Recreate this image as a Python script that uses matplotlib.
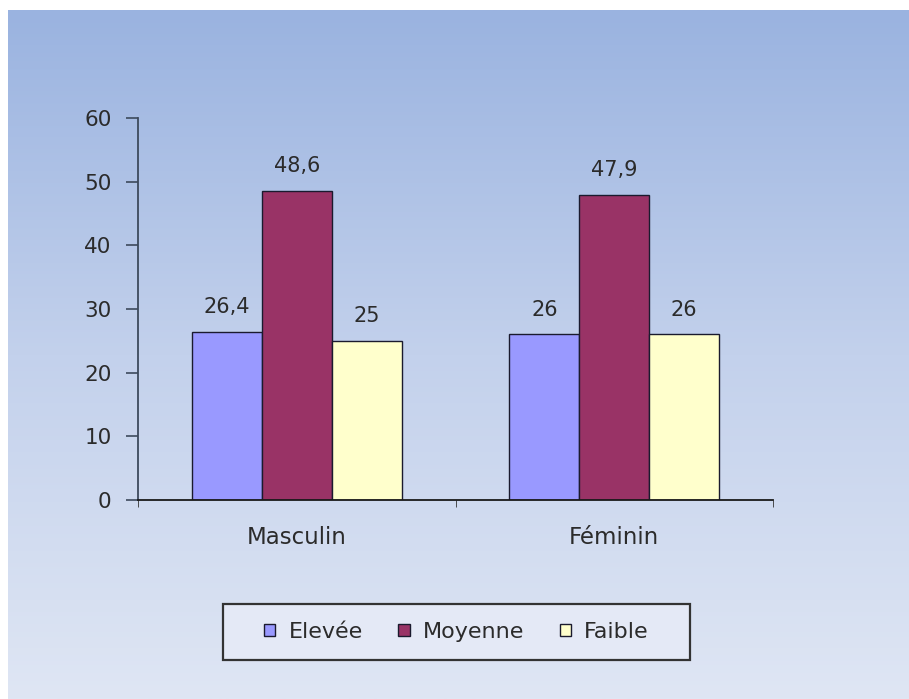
import numpy as np
import matplotlib.pyplot as plt
from matplotlib.colors import LinearSegmentedColormap
from matplotlib.patches import Rectangle

categories = ['Masculin', 'Féminin']
levels = ['Elevée', 'Moyenne', 'Faible']
elevee = [26.4, 26]
moyenne = [48.6, 47.9]
faible = [25, 26]
yticks = [0, 10, 20, 30, 40, 50, 60]

colors = ['#9999ff', '#993366', '#ffffcc']
text_col = '#2b2b2b'


def fmt(v):
    # French decimal comma
    s = f'{v:g}'
    return s.replace('.', ',')


fig = plt.figure(figsize=(9.09, 6.99), dpi=100)
fig.patch.set_facecolor('white')

# gradient panel behind the chart
bg = fig.add_axes([8 / 909, 0, 1 - 8 / 909, 1 - 10 / 699], zorder=0)
cmap = LinearSegmentedColormap.from_list('panel', ['#9ab3e0', '#c3d1ec', '#dfe6f4'])
grad = np.linspace(0, 1, 256).reshape(-1, 1)
bg.imshow(grad, aspect='auto', cmap=cmap, extent=[0, 1, 0, 1], origin='upper')
bg.set_axis_off()

ax = fig.add_axes([138 / 909, 1 - 500 / 699, 635 / 909, 382 / 699], zorder=1)
ax.patch.set_alpha(0)

x = np.arange(len(categories))
w = 0.22
series = [elevee, moyenne, faible]
handles = []
for i, (vals, c, lab) in enumerate(zip(series, colors, levels)):
    pos = x + (i - 1) * w
    bars = ax.bar(pos, vals, w, color=c, edgecolor='#1a1a2e', linewidth=1.0, label=lab)
    handles.append(bars)
    for b, v in zip(bars, vals):
        ax.annotate(fmt(v), (b.get_x() + b.get_width() / 2, v),
                    xytext=(0, 10.5), textcoords='offset points',
                    ha='center', va='bottom', fontsize=15, color=text_col)

ax.set_xlim(-0.5, 1.5)
ax.set_ylim(0, 60)
ax.set_yticks(yticks)
ax.set_yticklabels([str(t) for t in yticks], fontsize=15.5, color=text_col)
ax.set_xticks(x)
ax.set_xticklabels(categories, fontsize=16.5, color=text_col)
ax.tick_params(axis='x', length=0, pad=19)
ax.set_xticks([-0.5, 0.5, 1.5], minor=True)
ax.tick_params(axis='x', which='minor', length=5, color='#333333', direction='out')
ax.tick_params(axis='y', length=9, width=1.2, color='#3d4a5c', pad=10)

for s in ['top', 'right']:
    ax.spines[s].set_visible(False)
ax.spines['left'].set_color('#3d4a5c')
ax.spines['left'].set_linewidth(1.3)
ax.spines['bottom'].set_color('#1a1a1a')
ax.spines['bottom'].set_linewidth(1.3)

# legend box
fig.patches.append(Rectangle((223 / 909, 1 - 660 / 699), 467 / 909, 56 / 699,
                             transform=fig.transFigure, facecolor='#e4e9f6',
                             edgecolor='#333333', linewidth=1.6, zorder=2))
leg = fig.legend(handles, levels, loc='center',
                 bbox_to_anchor=(456.5 / 909, 1 - 632 / 699), ncol=3,
                 fontsize=16, frameon=False, handlelength=0.5,
                 handleheight=0.5, handletextpad=0.6, columnspacing=1.6)
leg.set_zorder(3)
for t in leg.get_texts():
    t.set_color(text_col)

fig.savefig('out.png', dpi=100)
